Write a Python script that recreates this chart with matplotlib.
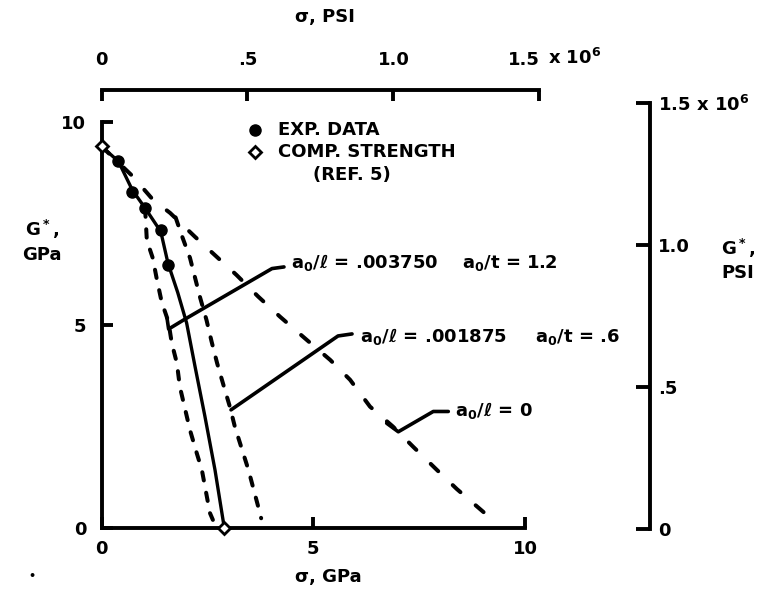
import matplotlib
matplotlib.use("Agg")
import matplotlib.pyplot as plt

plt.rcParams["font.family"] = ["DejaVu Sans"]
plt.rcParams["font.weight"] = "bold"
plt.rcParams["mathtext.fontset"] = "dejavusans"
plt.rcParams["mathtext.default"] = "bf"
plt.rcParams["lines.scale_dashes"] = False

W, H = 765, 599
GPA_PER_PSI = 6.894757e-6

# Experimental data (stress sigma in GPa, shear modulus G* in GPa)
exp_sigma = [0.40, 0.73, 1.03, 1.40, 1.57]
exp_G = [9.05, 8.27, 7.87, 7.33, 6.48]

# Compressive strength (Ref. 5)
comp_sigma = [0.0, 2.90]
comp_G = [9.40, 0.0]

# Curve through the experimental data
fit_sigma = [0.0, 0.40, 0.73, 1.03, 1.40, 1.57, 1.80, 2.01, 2.21, 2.44, 2.68, 2.90]
fit_G = [9.40, 9.03, 8.32, 7.88, 7.30, 6.52, 5.80, 5.05, 3.97, 2.76, 1.43, 0.0]

# Predictions, a0/l = 0
pred0_sigma = [0.0, 0.72, 1.22, 1.62, 2.21, 2.72, 3.19, 3.70, 4.22, 4.85,
               5.40, 5.87, 6.34, 6.88, 7.36, 7.92, 8.39, 9.10]
pred0_G = [9.40, 8.68, 8.08, 7.76, 7.17, 6.68, 6.23, 5.70, 5.20, 4.63,
           4.14, 3.65, 2.99, 2.50, 2.00, 1.43, 0.96, 0.32]

# Predictions, a0/l = .001875
pred1_sigma = [1.75, 1.89, 2.09, 2.21, 2.33, 2.48, 2.60, 2.73, 2.88, 3.03,
               3.15, 3.31, 3.47, 3.74, 3.77]
pred1_G = [7.65, 7.22, 6.65, 6.16, 5.67, 5.12, 4.59, 4.06, 3.52, 2.99,
           2.49, 1.96, 1.43, 0.37, 0.24]

# Predictions, a0/l = .003750
pred2_sigma = [1.03, 1.07, 1.21, 1.30, 1.42, 1.58, 1.66, 1.78, 1.85, 2.09,
               2.25, 2.37, 2.56, 2.63]
pred2_G = [7.87, 7.09, 6.65, 6.16, 5.57, 5.08, 4.55, 4.06, 3.48, 2.41,
           1.84, 1.43, 0.37, 0.20]

# Leader lines from the curve labels
lead2_sigma = [1.547, 1.585, 1.948, 4.026, 4.309]
lead2_G = [5.17, 4.90, 5.13, 6.39, 6.43]
lead1_sigma = [3.058, 5.585, 5.916]
lead1_G = [2.91, 4.73, 4.78]
lead0_sigma = [6.734, 7.008, 7.834, 8.189]
lead0_G = [2.58, 2.37, 2.87, 2.87]

# Axis ticks
gpa_ticks = [0, 5, 10]
gpa_labels = ["0", "5", "10"]
psi_ticks = [0, 0.5e6, 1.0e6, 1.5e6]
psi_top_labels = ["0", ".5", "1.0", "1.5"]
psi_right_labels = ["0", ".5", "1.0", "1.5 x 10$^6$"]

FS = 13
LW_AX = 2.8


def fx(px):
    return px / W


def fy(py):
    return 1 - py / H


fig = plt.figure(figsize=(W / 100, H / 100), dpi=100)
fig.patch.set_facecolor("white")

# Main axes in GPa
x0, x10, y0, y10 = 101.5, 525.0, 528.0, 122.0
px_per_gpa = (x10 - x0) / 10
ax = fig.add_axes([fx(x0), fy(y0), (x10 - x0) / W, (y0 - y10) / H])
ax.set_xlim(0, 10)
ax.set_ylim(0, 10)
ax.patch.set_visible(False)
for s in ["top", "right"]:
    ax.spines[s].set_visible(False)
for s in ["left", "bottom"]:
    ax.spines[s].set_linewidth(LW_AX)
    ax.spines[s].set_capstyle("projecting")
ax.set_xticks(gpa_ticks)
ax.set_xticklabels(gpa_labels)
ax.set_yticks(gpa_ticks)
ax.set_yticklabels(gpa_labels)
ax.tick_params(axis="both", direction="in", length=8, width=LW_AX,
               labelsize=FS, colors="black")
ax.tick_params(axis="x", pad=9)
ax.tick_params(axis="y", pad=11)

line_kw = dict(color="black", clip_on=False, solid_capstyle="round",
               dash_capstyle="round")
ax.plot(pred0_sigma, pred0_G, lw=2.9, dashes=(7.5, 14.5), **line_kw)
ax.plot(pred1_sigma, pred1_G, lw=2.9, dashes=(6.0, 9.0), **line_kw)
ax.plot(pred2_sigma, pred2_G, lw=2.9, dashes=(6.0, 9.0), **line_kw)
ax.plot(fit_sigma, fit_G, lw=2.4, **line_kw)
for ls, lg in [(lead2_sigma, lead2_G), (lead1_sigma, lead1_G),
               (lead0_sigma, lead0_G)]:
    ax.plot(ls, lg, lw=2.6, **line_kw)
ax.plot(exp_sigma, exp_G, "o", color="black", ms=8, clip_on=False, zorder=5)
ax.plot(comp_sigma, comp_G, "D", mfc="white", mec="black", mew=2.0, ms=6.5,
        clip_on=False, zorder=6)

# Top axis in psi, same scale as the GPa axis
x15 = x0 + 1.5e6 * GPA_PER_PSI * px_per_gpa
axt = fig.add_axes([fx(x0), fy(y0), (x15 - x0) / W, (y0 - 90) / H])
axt.set_xlim(0, 1.5e6)
axt.patch.set_visible(False)
for s in ["bottom", "left", "right"]:
    axt.spines[s].set_visible(False)
axt.spines["top"].set_linewidth(LW_AX)
axt.set_yticks([])
axt.xaxis.tick_top()
axt.set_xticks(psi_ticks)
axt.set_xticklabels(psi_top_labels)
axt.tick_params(axis="x", direction="in", length=8, width=LW_AX,
                labelsize=FS, pad=15)
axt.get_xticklabels()[-1].set_horizontalalignment("right")
fig.text(fx(548), fy(58), "x 10$^6$", fontsize=FS, ha="left", va="center")

# Right axis in psi
axr = fig.add_axes([fx(600), fy(529), 50 / W, (529 - 103) / H])
axr.set_ylim(0, 1.5e6)
axr.patch.set_visible(False)
for s in ["bottom", "left", "top"]:
    axr.spines[s].set_visible(False)
axr.spines["right"].set_linewidth(LW_AX)
axr.set_xticks([])
axr.yaxis.tick_right()
axr.set_yticks(psi_ticks)
axr.set_yticklabels(psi_right_labels)
axr.tick_params(axis="y", direction="in", length=10, width=LW_AX,
                labelsize=FS, pad=6)

# Axis titles
fig.text(fx(325), fy(17), "σ, PSI", fontsize=FS, ha="center", va="center")
fig.text(fx(328), fy(577), "σ, GPa", fontsize=FS, ha="center", va="center")
fig.text(fx(42), fy(229), "G$^*$,", fontsize=FS, ha="center", va="center")
fig.text(fx(42), fy(255), "GPa", fontsize=FS, ha="center", va="center")
fig.text(fx(738), fy(248), "G$^*$,", fontsize=FS, ha="center", va="center")
fig.text(fx(738), fy(273), "PSI", fontsize=FS, ha="center", va="center")
fig.text(fx(32), fy(576), "•", fontsize=8, ha="center", va="center")

# Key
fig.text(fx(278), fy(130), "EXP. DATA", fontsize=FS, ha="left", va="center")
fig.text(fx(278), fy(152), "COMP. STRENGTH", fontsize=FS, ha="left", va="center")
fig.text(fx(352), fy(175), "(REF. 5)", fontsize=FS, ha="center", va="center")
fig.lines.append(plt.Line2D([fx(255)], [fy(130)], marker="o", color="black",
                            ms=8, transform=fig.transFigure, figure=fig))
fig.lines.append(plt.Line2D([fx(255)], [fy(152)], marker="D", mfc="white",
                            mec="black", mew=2.0, ms=6.5,
                            transform=fig.transFigure, figure=fig))

# Curve labels
lab_kw = dict(fontsize=FS, ha="left", va="baseline")
fig.text(fx(291), fy(268), "a$_0$/ℓ = .003750", **lab_kw)
fig.text(fx(462), fy(268), "a$_0$/t = 1.2", **lab_kw)
fig.text(fx(360), fy(342), "a$_0$/ℓ = .001875", **lab_kw)
fig.text(fx(535), fy(342), "a$_0$/t = .6", **lab_kw)
fig.text(fx(455), fy(416), "a$_0$/ℓ = 0", **lab_kw)

fig.savefig("out.png", dpi=100, facecolor="white")
